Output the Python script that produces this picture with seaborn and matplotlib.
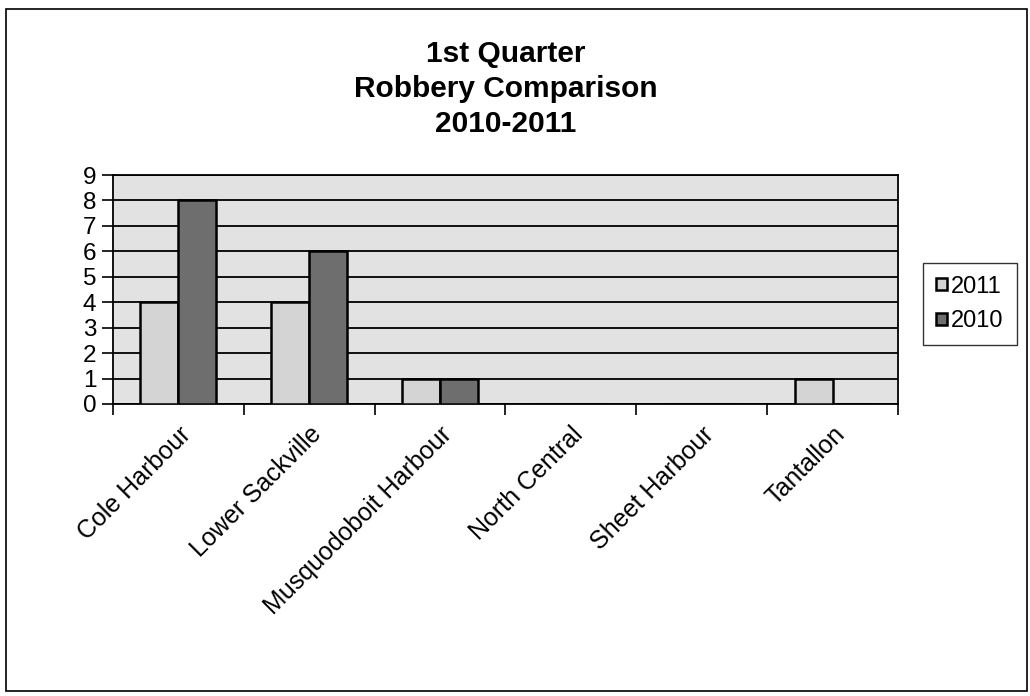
import numpy as np
import pandas as pd
import matplotlib
matplotlib.use("Agg")
import matplotlib.pyplot as plt
import seaborn as sns
from matplotlib.patches import Rectangle

# data
stations = ["Cole Harbour", "Lower Sackville", "Musquodoboit Harbour",
            "North Central", "Sheet Harbour", "Tantallon"]
robberies_2011 = [4, 4, 1, 0, 0, 1]
robberies_2010 = [8, 6, 1, 0, 0, 0]
years = ["2011", "2010"]
y_ticks = list(range(0, 10))

df = pd.DataFrame({
    "station": stations * 2,
    "year": [years[0]] * len(stations) + [years[1]] * len(stations),
    "count": robberies_2011 + robberies_2010,
})

sns.set_theme(style="white")
plt.rcParams["font.family"] = ["Liberation Sans", "DejaVu Sans"]
plt.rcParams["text.color"] = "black"
plt.rcParams["xtick.color"] = "black"
plt.rcParams["ytick.color"] = "black"

fig = plt.figure(figsize=(10.3, 6.96), dpi=100)
ax = fig.add_axes([113 / 1030, 1 - 404 / 696, (898 - 113) / 1030, (404 - 175) / 696])
ax.set_facecolor("#e2e2e2")

palette = {"2011": "#d4d4d4", "2010": "#6e6e6e"}
sns.barplot(data=df, x="station", y="count", hue="year", order=stations,
            hue_order=years, palette=palette, width=0.58, gap=0,
            edgecolor="black", linewidth=1.8, saturation=1, ax=ax, zorder=3)

ax.set_ylim(0, 9)
ax.set_xlim(-0.5, len(stations) - 0.5)
ax.set_yticks(y_ticks)
ax.set_yticklabels([str(v) for v in y_ticks], fontsize=17.5)
ax.yaxis.grid(True, color="black", linewidth=1.3, zorder=1)
ax.set_axisbelow(True)
ax.tick_params(axis="y", which="major", direction="out", length=8, width=1.2,
               color="black", left=True, pad=4)

# ticks between categories, labels at centres
ax.set_xticks(np.arange(len(stations)))
ax.set_xticks(np.arange(-0.5, len(stations)), minor=True)
ax.tick_params(axis="x", which="major", length=0, pad=13)
ax.tick_params(axis="x", which="minor", direction="out", length=8, width=1.2,
               color="black", bottom=True)
ax.set_xticklabels(stations, rotation=45, ha="right", va="top",
                   rotation_mode="anchor", fontsize=18)
ax.set_xlabel("")
ax.set_ylabel("")

for side in ["left", "bottom", "right", "top"]:
    ax.spines[side].set_visible(True)
    ax.spines[side].set_color("black")
    ax.spines[side].set_linewidth(1.3)

fig.text((113 + 898) / 2 / 1030, 1 - 89 / 696,
         "1st Quarter\nRobbery Comparison\n2010-2011",
         ha="center", va="center", fontsize=21.5, fontweight="bold",
         linespacing=1.3, color="black")

ax.legend(loc="center left", bbox_to_anchor=(923 / 1030, 1 - 304 / 696),
          bbox_transform=fig.transFigure, fontsize=17, frameon=True,
          edgecolor="black", fancybox=False, handlelength=0.45,
          handleheight=0.45, handletextpad=0.2, borderpad=0.55,
          labelspacing=0.55, borderaxespad=0)
ax.get_legend().get_frame().set_linewidth(1.0)

# outer chart border
fig.patches.append(Rectangle((6 / 1030, 5 / 696), 1021 / 1030, 682 / 696,
                             transform=fig.transFigure, fill=False,
                             edgecolor="black", linewidth=1.2))

fig.savefig("out.png", dpi=100)
